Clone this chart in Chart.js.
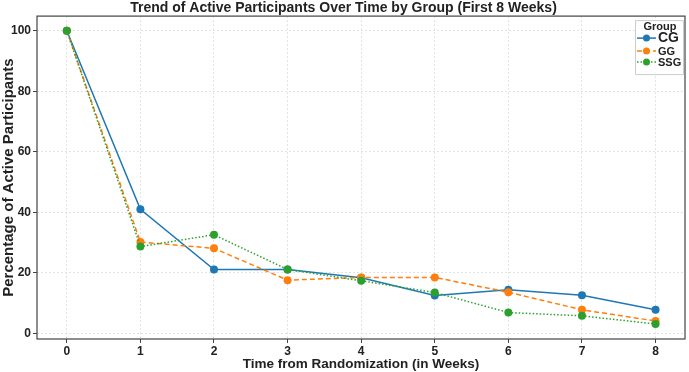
<!DOCTYPE html>
<html>
<head>
<meta charset="utf-8">
<script src="https://cdn.jsdelivr.net/npm/chart.js@4"></script>
<style>
  body { margin: 0; background: #fff; }
</style>
</head>
<body>
<canvas id="lineChart" width="689" height="372"></canvas>
<script>
// data
var weeks = [0, 1, 2, 3, 4, 5, 6, 7, 8];
var cgValues = [100, 41, 21.1, 21.1, 18.4, 12.5, 14.4, 12.6, 7.8];
var ggValues = [100, 30.2, 28.1, 17.6, 18.5, 18.5, 13.6, 7.8, 4.1];
var ssgValues = [100, 28.7, 32.6, 21.1, 17.4, 13.5, 6.9, 5.8, 3.1];
var yTicks = [0, 20, 40, 60, 80, 100];

var fontFam = '"Liberation Sans", Arial, sans-serif';

function toPoints(vals) {
  return weeks.map(function(w, i) { return { x: w, y: vals[i] }; });
}

// frame round the plot + legend box in the top right corner
var framePlugin = {
  id: 'frame',
  afterDraw: function(chart) {
    var ctx = chart.ctx, a = chart.chartArea;
    ctx.save();
    ctx.strokeStyle = '#444';
    ctx.lineWidth = 1.2;
    ctx.strokeRect(a.left, a.top, a.right - a.left, a.bottom - a.top);

    // legend
    var bx = a.right - 50, by = a.top + 4, bw = 48, bh = 54;
    ctx.fillStyle = 'rgba(255,255,255,0.85)';
    ctx.strokeStyle = '#ccc';
    ctx.lineWidth = 1;
    ctx.beginPath();
    ctx.rect(bx + 0.5, by + 0.5, bw, bh);
    ctx.fill();
    ctx.stroke();

    ctx.fillStyle = '#222';
    ctx.textAlign = 'center';
    ctx.textBaseline = 'middle';
    ctx.font = 'bold 11px ' + fontFam;
    ctx.fillText('Group', bx + bw / 2 + 1, by + 7);

    var rows = [by + 18, by + 31, by + 42];
    var sizes = [14, 11, 11];
    chart.data.datasets.forEach(function(ds, i) {
      var y = rows[i];
      ctx.save();
      ctx.strokeStyle = ds.borderColor;
      ctx.lineWidth = 1.5;
      ctx.setLineDash(ds.borderDash || []);
      ctx.beginPath();
      ctx.moveTo(bx + 2, y);
      ctx.lineTo(bx + 21, y);
      ctx.stroke();
      ctx.setLineDash([]);
      ctx.fillStyle = ds.backgroundColor;
      ctx.beginPath();
      ctx.arc(bx + 11.5, y, 3.5, 0, Math.PI * 2);
      ctx.fill();
      ctx.restore();
      ctx.fillStyle = '#222';
      ctx.textAlign = 'left';
      ctx.font = 'bold ' + sizes[i] + 'px ' + fontFam;
      ctx.fillText(ds.label, bx + 23, y + 0.5);
    });
    ctx.restore();
  }
};

var ctx = document.getElementById('lineChart').getContext('2d');
var myChart = new Chart(ctx, {
  type: 'line',
  data: {
    datasets: [{
      label: 'CG',
      data: toPoints(cgValues),
      borderColor: '#1f77b4',
      backgroundColor: '#1f77b4',
      borderWidth: 1.5,
      pointRadius: 4,
      pointBorderWidth: 0,
      order: 3,
      fill: false
    }, {
      label: 'GG',
      data: toPoints(ggValues),
      borderColor: '#ff7f0e',
      backgroundColor: '#ff7f0e',
      borderWidth: 1.5,
      borderDash: [5, 3],
      pointRadius: 4,
      pointBorderWidth: 0,
      order: 2,
      fill: false
    }, {
      label: 'SSG',
      data: toPoints(ssgValues),
      borderColor: '#2ca02c',
      backgroundColor: '#2ca02c',
      borderWidth: 1.5,
      borderDash: [1.5, 2],
      pointRadius: 4,
      pointBorderWidth: 0,
      order: 1,
      fill: false
    }]
  },
  options: {
    responsive: false,
    animation: false,
    layout: { padding: { right: 2, left: 0, bottom: 0 } },
    plugins: {
      legend: { display: false },
      tooltip: { enabled: false },
      title: {
        display: true,
        text: 'Trend of Active Participants Over Time by Group (First 8 Weeks)',
        color: '#222',
        font: { family: fontFam, size: 14, weight: 'bold', lineHeight: 1.15 },
        padding: { top: 0, bottom: 0 }
      }
    },
    scales: {
      x: {
        type: 'linear',
        min: -0.405,
        max: 8.4,
        afterBuildTicks: function(scale) {
          scale.ticks = weeks.map(function(v) { return { value: v }; });
        },
        afterFit: function(scale) { scale.height = 33; },
        ticks: {
          color: '#222',
          padding: 1,
          maxRotation: 0,
          font: { family: fontFam, size: 12, weight: 'bold' }
        },
        grid: { color: '#e2e2e2', tickColor: '#444', tickLength: 4 },
        border: { display: false, dash: [2, 2] },
        title: {
          display: true,
          text: 'Time from Randomization (in Weeks)',
          color: '#222',
          padding: { top: 0, bottom: 0 },
          font: { family: fontFam, size: 13.5, weight: 'bold' }
        }
      },
      y: {
        min: -1.85,
        max: 104.85,
        afterBuildTicks: function(scale) {
          scale.ticks = yTicks.map(function(v) { return { value: v }; });
        },
        afterFit: function(scale) { scale.width = 37; },
        ticks: {
          color: '#222',
          padding: 2,
          font: { family: fontFam, size: 12, weight: 'bold' }
        },
        grid: { color: '#e2e2e2', tickColor: '#444', tickLength: 4 },
        border: { display: false, dash: [2, 2] },
        title: {
          display: true,
          text: 'Percentage of Active Participants',
          color: '#222',
          padding: { top: 0, bottom: 0 },
          font: { family: fontFam, size: 15, weight: 'bold' }
        }
      }
    }
  },
  plugins: [framePlugin]
});
</script>
</body>
</html>
